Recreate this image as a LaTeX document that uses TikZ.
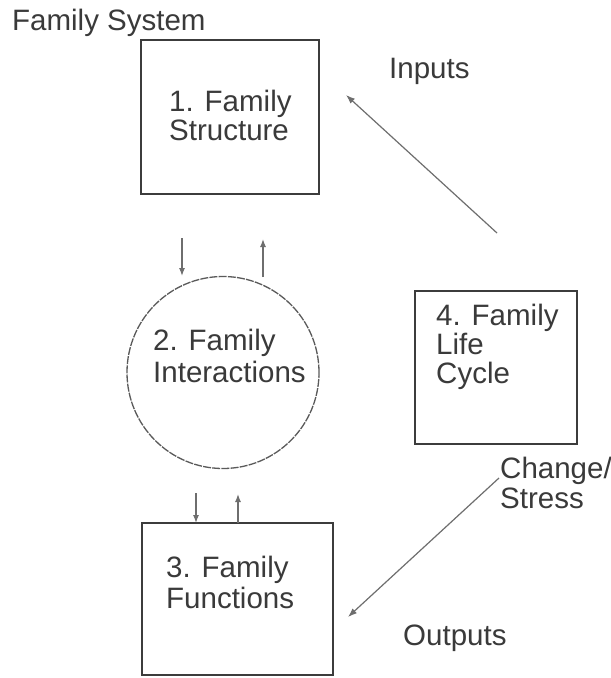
\documentclass[tikz,border=0pt]{standalone}
\usepackage{fontspec}
\setmainfont{Liberation Sans}
\usetikzlibrary{arrows.meta}
\definecolor{ink}{HTML}{3A3A3A}
\definecolor{boxline}{HTML}{3C3C3C}
\definecolor{ringline}{HTML}{5A5A5A}
\definecolor{arrowc}{HTML}{6E6E6E}
\begin{document}
\begin{tikzpicture}[x=1pt,y=-1pt,
  lbl/.style={anchor=base west, inner sep=0pt, text=ink,
              font=\fontsize{29.5}{30}\selectfont},
  boxshape/.style={draw=boxline, line width=1.8pt, rectangle, inner sep=0pt},
  ringshape/.style={draw=ringline, line width=1.3pt, circle, inner sep=0pt,
                    dash pattern=on 8pt off 1.2pt},
  conn/.style={draw=arrowc, line width=1.2pt, -{Latex[length=9pt,width=6.5pt]}},
  flow/.style={draw=arrowc, line width=1.3pt, -{Latex[length=8pt,width=6pt]}}
]
\useasboundingbox[fill=white] (0,0) rectangle (611,678);

% title
\node[lbl] (title) at (12,30) {Family System};

% 1. structure
\node[boxshape, minimum width=178pt, minimum height=154pt] (b1) at (230,117) {};
\node[lbl] (t1a) at (169,111) {1. Family};
\node[lbl] (t1b) at (169,140) {Structure};

% 2. interactions
\node[ringshape, minimum size=192pt] (c2) at (223,372.5) {};
\node[lbl] (t2a) at (153,350) {2. Family};
\node[lbl] (t2b) at (153,382) {Interactions};

% 3. functions
\node[boxshape, minimum width=191pt, minimum height=152pt] (b3) at (237.5,599) {};
\node[lbl] (t3a) at (166,577) {3. Family};
\node[lbl] (t3b) at (166,608) {Functions};

% 4. life cycle
\node[boxshape, minimum width=162pt, minimum height=153pt] (b4) at (496,367.5) {};
\node[lbl] (t4a) at (436,325) {4. Family};
\node[lbl] (t4b) at (436,354) {Life};
\node[lbl] (t4c) at (436,383) {Cycle};

% side labels
\node[lbl] (inp) at (389,78) {Inputs};
\node[lbl] (chg) at (500,478) {Change/};
\node[lbl] (str) at (500,508) {Stress};
\node[lbl] (outp) at (403,645) {Outputs};

% arrow end points
\coordinate (d1s) at (182,238);
\coordinate (d1e) at (182,276);
\coordinate (u1s) at (263,277);
\coordinate (u1e) at (263,239);
\coordinate (d2s) at (196,493);
\coordinate (d2e) at (196,523);
\coordinate (u2s) at (238,523);
\coordinate (u2e) at (238,494);
\coordinate (ins) at (497,233);
\coordinate (ine) at (346,95);
\coordinate (chs) at (499,478);
\coordinate (che) at (348,617);

% exchanges between structure, interactions and functions
\draw[flow] (d1s) -- (d1e);
\draw[flow] (u1s) -- (u1e);
\draw[flow] (d2s) -- (d2e);
\draw[flow] (u2s) -- (u2e);

% inputs and change/stress
\draw[conn] (ins) -- (ine);
\draw[conn] (chs) -- (che);
\end{tikzpicture}
\end{document}
